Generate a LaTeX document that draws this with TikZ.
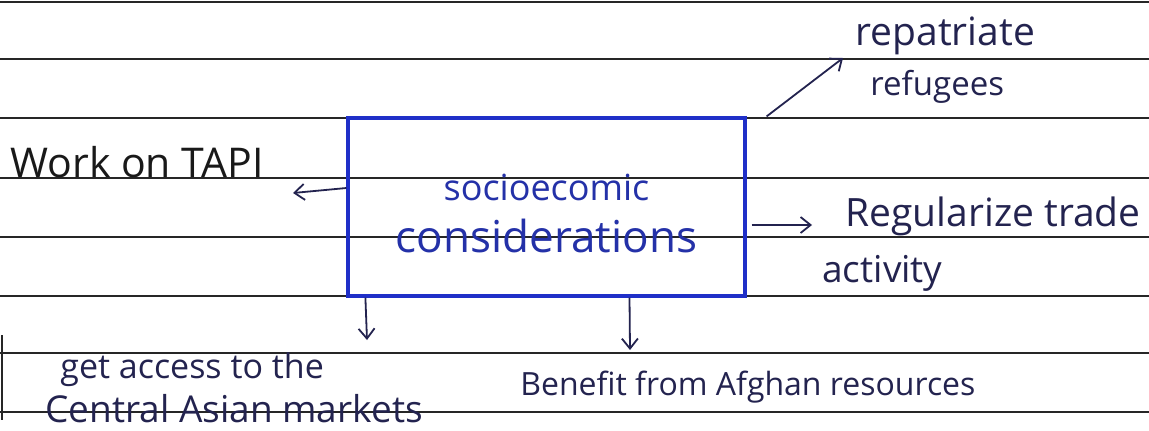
\documentclass[tikz,border=0pt]{standalone}
\usepackage{fontspec}
\setmainfont{Open Sans}
\usetikzlibrary{arrows.meta}
\definecolor{penink}{HTML}{23234F}
\definecolor{boxblue}{HTML}{1F2FC8}
\definecolor{boxink}{HTML}{2431A8}
\begin{document}
\begin{tikzpicture}[x=.5pt,y=-.5pt,
  rule/.style={black!85,line width=1pt},
  note/.style={text=penink,inner sep=0pt,anchor=base west,font=\fontsize{18}{22}\selectfont},
  pen/.style={draw=penink,line width=.9pt,-{Straight Barb[length=5pt,width=8pt]}}]
\useasboundingbox[fill=white] (0,0) rectangle (1149,430);
\foreach \y in {2,59,118,178,237,296,353,412}
  \draw[rule] (0,\y) -- (1149,\y);
\draw[rule] (1.5,335) -- (1.5,420);
\node[draw=boxblue,line width=1.6pt,minimum width=198.5pt,minimum height=89pt,inner sep=0pt,align=center,text=boxink,font=\fontsize{20}{26}\selectfont] (socio) at (546.5,207) {\rule{0pt}{20pt}{\fontsize{18}{26}\selectfont socioecomic}\\{\fontsize{22}{26}\selectfont considerations}};
\node[note,text=black!90,font=\fontsize{20.5}{24}\selectfont] (tapi) at (10,177) {Work on TAPI};
\node[note,font=\fontsize{19.5}{24}\selectfont] (repat) at (855,45) {repatriate};
\node[note,font=\fontsize{16.5}{22}\selectfont] (refug) at (870,95) {refugees};
\node[note,font=\fontsize{19.5}{24}\selectfont] (trade) at (845,226) {Regularize trade};
\node[note,font=\fontsize{18.5}{22}\selectfont] (activ) at (822,282) {activity};
\node[note,font=\fontsize{17}{22}\selectfont] (access) at (60,378) {get access to the};
\node[note,font=\fontsize{18.5}{22}\selectfont] (central) at (45,422) {Central Asian markets};
\node[note,font=\fontsize{16}{22}\selectfont] (afghan) at (520,395) {Benefit from Afghan resources};
\coordinate (tapiend) at (293,193);
\coordinate (repatend) at (843,58);
\coordinate (tradeend) at (812,225);
\coordinate (accessend) at (367,340);
\coordinate (afghanend) at (630,350);
\draw[pen] ([yshift=9.5pt]socio.west) -- (tapiend);
\draw[pen] ([xshift=10pt]socio.north east) -- (repatend);
\draw[pen] ([xshift=2.5pt,yshift=-9pt]socio.east) -- (tradeend);
\draw[pen] ([xshift=9.5pt]socio.south west) -- (accessend);
\draw[pen] ([xshift=41.5pt]socio.south) -- (afghanend);
\end{tikzpicture}
\end{document}
